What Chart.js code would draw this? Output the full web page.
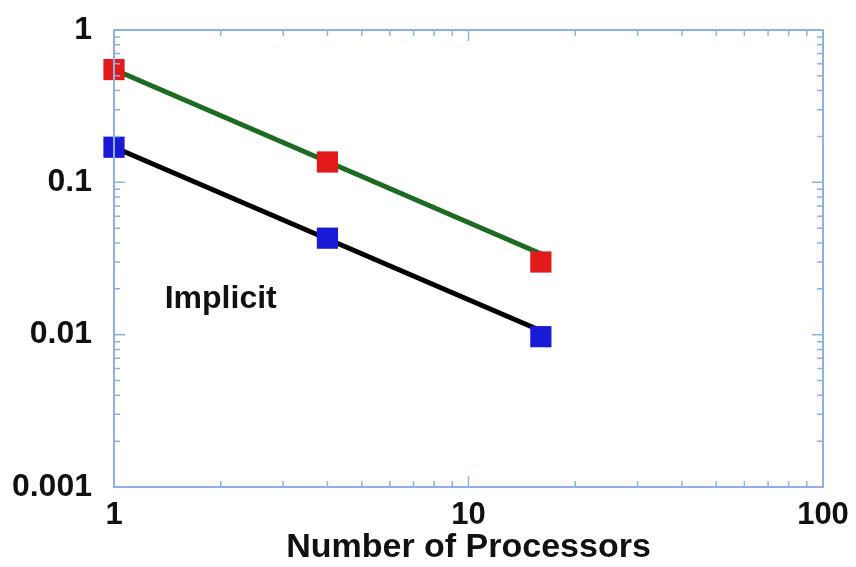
<!DOCTYPE html>
<html lang="en">
<head>
    <meta charset="UTF-8">
    <title>Implicit timing vs processors</title>
    <script src="https://cdn.jsdelivr.net/npm/chart.js"></script>
    <style>
        body {
            margin: 0;
            padding: 0;
            background-color: #ffffff;
        }

        .chart-container {
            width: 856px;
            height: 567px;
        }
    </style>
</head>
<body>

    <div class="chart-container">
        <canvas id="scalingChart"></canvas>
    </div>

    <script>
        // Values
        const processors = [1, 4, 16];
        const redTimes = [0.55, 0.136, 0.030];
        const blueTimes = [0.17, 0.043, 0.0097];

        // Fit lines (two end points each)
        const fitProcessors = [1, 16];
        const greenFit = [0.55, 0.034];
        const blackFit = [0.17, 0.0106];

        const xTickValues = [1, 10, 100];
        const yTickValues = [0.001, 0.01, 0.1, 1];

        const noteText = 'Implicit';
        const notePos = { x: 2, y: 0.017 };

        const frameColor = '#8fb0e0';
        const fontFamily = '"Liberation Sans", Arial, sans-serif';

        function toPoints(xs, ys) {
            return xs.map((x, i) => ({ x: x, y: ys[i] }));
        }

        // Draws the box round the plot and the small inner ticks on all sides
        const framePlugin = {
            id: 'frame',
            afterDatasetsDraw(chart) {
                const { ctx, chartArea: a, scales } = chart;
                const xs = scales.x, ys = scales.y;
                ctx.save();
                ctx.strokeStyle = frameColor;
                ctx.lineWidth = 1.5;

                ctx.beginPath();
                for (let d = 1; d < 100; d *= 10) {
                    for (let m = 1; m <= 9; m++) {
                        const v = d * m;
                        if (v <= 1) continue;
                        const px = xs.getPixelForValue(v);
                        const len = m === 1 ? 11 : 6;
                        ctx.moveTo(px, a.bottom);
                        ctx.lineTo(px, a.bottom - len);
                        ctx.moveTo(px, a.top);
                        ctx.lineTo(px, a.top + len);
                    }
                }
                for (let d = 0.001; d < 1; d *= 10) {
                    for (let m = 1; m <= 9; m++) {
                        const v = d * m;
                        if (m === 1 && d < 0.0011) continue;
                        const py = ys.getPixelForValue(v);
                        const len = m === 1 ? 11 : 6;
                        ctx.moveTo(a.left, py);
                        ctx.lineTo(a.left + len, py);
                        ctx.moveTo(a.right, py);
                        ctx.lineTo(a.right - len, py);
                    }
                }
                ctx.stroke();

                ctx.lineWidth = 2;
                ctx.strokeRect(a.left, a.top, a.right - a.left, a.bottom - a.top);
                ctx.restore();
            },
            afterDraw(chart) {
                const { ctx, scales } = chart;
                // text note inside the plot
                ctx.save();
                ctx.fillStyle = '#111111';
                ctx.font = 'bold 32px ' + fontFamily;
                ctx.textAlign = 'center';
                ctx.textBaseline = 'middle';
                ctx.fillText(noteText, scales.x.getPixelForValue(notePos.x), scales.y.getPixelForValue(notePos.y));
                ctx.restore();
            }
        };

        const ctx = document.getElementById('scalingChart').getContext('2d');
        new Chart(ctx, {
            type: 'scatter',
            data: {
                datasets: [
                    {
                        label: 'Red',
                        data: toPoints(processors, redTimes),
                        pointStyle: 'rect',
                        pointRadius: 15,
                        backgroundColor: '#e21a1a',
                        borderWidth: 0,
                        clip: false,
                        order: 0
                    },
                    {
                        label: 'Blue',
                        data: toPoints(processors, blueTimes),
                        pointStyle: 'rect',
                        pointRadius: 15,
                        backgroundColor: '#1a1ad6',
                        borderWidth: 0,
                        clip: false,
                        order: 0
                    },
                    {
                        label: 'Green fit',
                        data: toPoints(fitProcessors, greenFit),
                        showLine: true,
                        pointRadius: 0,
                        borderColor: '#1d6b22',
                        borderWidth: 5,
                        clip: false,
                        order: 1
                    },
                    {
                        label: 'Black fit',
                        data: toPoints(fitProcessors, blackFit),
                        showLine: true,
                        pointRadius: 0,
                        borderColor: '#000000',
                        borderWidth: 5,
                        clip: false,
                        order: 1
                    }
                ]
            },
            options: {
                responsive: true,
                maintainAspectRatio: false,
                animation: false,
                layout: {
                    padding: { left: 0, top: 30, right: 33, bottom: 0 }
                },
                plugins: {
                    legend: { display: false },
                    tooltip: { enabled: false }
                },
                scales: {
                    x: {
                        type: 'logarithmic',
                        min: 1,
                        max: 100,
                        grid: { display: false, drawTicks: false },
                        border: { display: false },
                        afterBuildTicks: scale => {
                            scale.ticks = xTickValues.map(v => ({ value: v }));
                        },
                        afterFit: scale => {
                            scale.height = 80;
                            scale.paddingLeft = 0;
                            scale.paddingRight = 0;
                        },
                        ticks: {
                            padding: 10,
                            maxRotation: 0,
                            color: '#111111',
                            font: { family: fontFamily, size: 31, weight: 'bold' },
                            callback: value => String(value)
                        },
                        title: {
                            display: true,
                            text: 'Number of Processors',
                            color: '#111111',
                            padding: { top: 0, bottom: 2 },
                            font: { family: fontFamily, size: 34, weight: 'bold', lineHeight: 1 }
                        }
                    },
                    y: {
                        type: 'logarithmic',
                        min: 0.001,
                        max: 1,
                        grid: { display: false, drawTicks: false },
                        border: { display: false },
                        afterBuildTicks: scale => {
                            scale.ticks = yTickValues.map(v => ({ value: v }));
                        },
                        afterFit: scale => {
                            scale.width = 114;
                            scale.paddingTop = 0;
                            scale.paddingBottom = 0;
                        },
                        ticks: {
                            padding: 22,
                            color: '#111111',
                            font: { family: fontFamily, size: 32, weight: 'bold' },
                            callback: value => String(value)
                        }
                    }
                }
            },
            plugins: [framePlugin]
        });
    </script>

</body>
</html>
